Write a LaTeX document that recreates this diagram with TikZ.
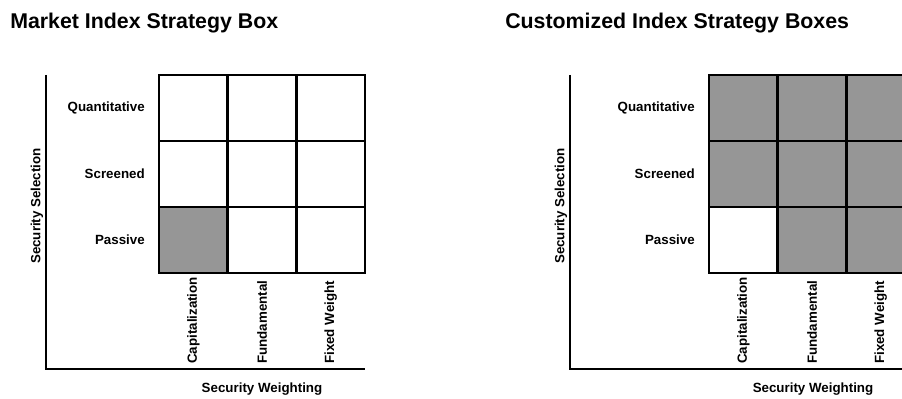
\documentclass[tikz,border=0pt]{standalone}
\usepackage{fontspec}
\setmainfont{Liberation Sans}
\usetikzlibrary{positioning}

\tikzset{
  cell/.style={draw, line width=2pt, minimum width=68.7*0.75pt, minimum height=66*0.75pt, inner sep=0pt},
  filled/.style={cell, fill=shade},
  empty/.style={cell, fill=white},
  rowlabel/.style={anchor=east, inner sep=0pt, font=\bfseries\fontsize{10}{12}\selectfont},
  collabel/.style={anchor=west, rotate=90, inner sep=0pt, font=\bfseries\fontsize{10}{12}\selectfont},
  axislabel/.style={inner sep=0pt, font=\bfseries\fontsize{10}{12}\selectfont},
  paneltitle/.style={anchor=base west, inner sep=0pt, font=\bfseries\fontsize{16}{19}\selectfont},
  axis/.style={line width=1.6pt}
}
\definecolor{shade}{RGB}{150,150,150}

\begin{document}
\begin{tikzpicture}[x=0.75pt, y=-0.75pt]
  \useasboundingbox (0,0) rectangle (902,399);
  \clip (0,0) rectangle (902,399);

  % left panel: market index
  \node [paneltitle] (titleL) at (10,29) {Market Index Strategy Box};
  \node [empty]  (L-1-1) at (193.3,108) {};
  \node [empty]  (L-1-2) at (262,108) {};
  \node [empty]  (L-1-3) at (330.7,108) {};
  \node [empty]  (L-2-1) at (193.3,174) {};
  \node [empty]  (L-2-2) at (262,174) {};
  \node [empty]  (L-2-3) at (330.7,174) {};
  \node [filled] (L-3-1) at (193.3,240) {};
  \node [empty]  (L-3-2) at (262,240) {};
  \node [empty]  (L-3-3) at (330.7,240) {};
  \node [rowlabel] (qL) at (145,108) {Quantitative};
  \node [rowlabel] (sL) at (145,174) {Screened};
  \node [rowlabel] (pL) at (145,240) {Passive};
  \node [collabel] (cL) at (193.3,364) {Capitalization};
  \node [collabel] (fL) at (262,364) {Fundamental};
  \node [collabel] (wL) at (330.7,364) {Fixed Weight};
  \coordinate (topL) at (46,75);
  \coordinate (originL) at (46,369);
  \coordinate (endL) at (365,369);
  \draw [axis] (topL) -- (originL) -- (endL);
  \node [axislabel, rotate=90] (selL) at (37,206) {Security Selection};
  \node [axislabel] (weiL) at (262,389) {Security Weighting};

  % right panel: customized index
  \node [paneltitle] (titleR) at (505,29) {Customized Index Strategy Boxes};
  \node [filled] (R-1-1) at (743.3,108) {};
  \node [filled] (R-1-2) at (812,108) {};
  \node [filled] (R-1-3) at (880.7,108) {};
  \node [filled] (R-2-1) at (743.3,174) {};
  \node [filled] (R-2-2) at (812,174) {};
  \node [filled] (R-2-3) at (880.7,174) {};
  \node [empty]  (R-3-1) at (743.3,240) {};
  \node [filled] (R-3-2) at (812,240) {};
  \node [filled] (R-3-3) at (880.7,240) {};
  \node [rowlabel] (qR) at (695,108) {Quantitative};
  \node [rowlabel] (sR) at (695,174) {Screened};
  \node [rowlabel] (pR) at (695,240) {Passive};
  \node [collabel] (cR) at (743.3,364) {Capitalization};
  \node [collabel] (fR) at (812,364) {Fundamental};
  \node [collabel] (wR) at (880.7,364) {Fixed Weight};
  \coordinate (topR) at (570,75);
  \coordinate (originR) at (570,369);
  \coordinate (endR) at (915,369);
  \draw [axis] (topR) -- (originR) -- (endR);
  \node [axislabel, rotate=90] (selR) at (561,206) {Security Selection};
  \node [axislabel] (weiR) at (813,389) {Security Weighting};
\end{tikzpicture}
\end{document}
